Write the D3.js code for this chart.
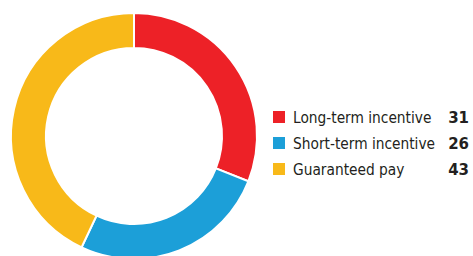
<!DOCTYPE html>
<html>
<head>
<meta charset="utf-8">
<script src="https://cdn.jsdelivr.net/npm/d3@7"></script>
<style>
  body { margin: 0; background: #fff; }
  svg { display: block; }
</style>
</head>
<body>
<div class="chart"></div>
<script>
// data
const labels = ['Long-term incentive', 'Short-term incentive', 'Guaranteed pay'];
const values = [31, 26, 43];
const colors = ['#ed2127', '#1c9fd8', '#f8b919'];

const width = 473, height = 256;
const cx = 134, cy = 136;
const outerR = 123, innerR = 88;

const svg = d3.select('.chart')
  .append('svg')
  .attr('width', width)
  .attr('height', height);

const pie = d3.pie().sort(null).value(d => d);
const arc = d3.arc().innerRadius(innerR).outerRadius(outerR);

svg.append('g')
  .attr('transform', `translate(${cx},${cy})`)
  .selectAll('path')
  .data(pie(values))
  .join('path')
  .attr('d', arc)
  .attr('fill', (d, i) => colors[i])
  .attr('stroke', '#fff')
  .attr('stroke-width', 2);

// legend
const rowY = d3.scalePoint().domain(labels).range([117, 169]);

const legend = svg.append('g')
  .selectAll('g')
  .data(labels)
  .join('g')
  .attr('transform', d => `translate(0,${rowY(d)})`);

legend.append('rect')
  .attr('x', 273)
  .attr('y', -6)
  .attr('width', 12)
  .attr('height', 12)
  .attr('fill', (d, i) => colors[i]);

legend.append('text')
  .attr('x', 293)
  .attr('y', 6)
  .style('font-family', '"DejaVu Sans Condensed", sans-serif')
  .style('font-size', '15.3px')
  .attr('fill', '#231f20')
  .text(d => d);

legend.append('text')
  .attr('x', 469)
  .attr('y', 6)
  .attr('text-anchor', 'end')
  .style('font-family', '"DejaVu Sans", sans-serif')
  .style('font-size', '15px')
  .style('font-weight', 'bold')
  .attr('fill', '#231f20')
  .text((d, i) => values[i]);
</script>
</body>
</html>
